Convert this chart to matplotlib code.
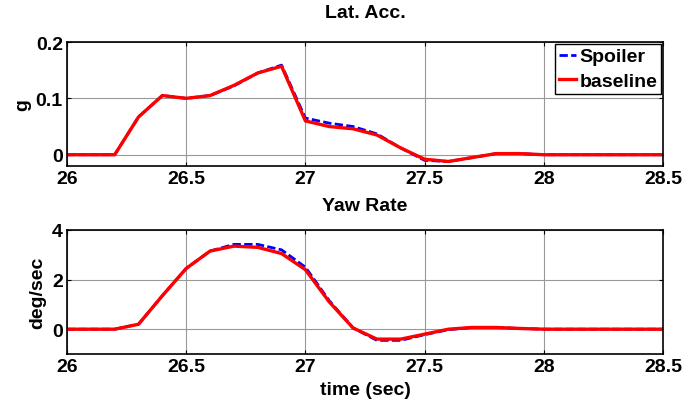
import matplotlib
matplotlib.use("Agg")
import matplotlib.pyplot as plt

time = [26.0, 26.1, 26.2, 26.3, 26.4, 26.5, 26.6, 26.7, 26.8, 26.9,
        27.0, 27.1, 27.2, 27.3, 27.4, 27.5, 27.6, 27.7, 27.8, 27.9,
        28.0, 28.1, 28.2, 28.3, 28.4, 28.5]

acc_spoiler = [0, 0, 0, 0.067, 0.105, 0.100, 0.105, 0.122, 0.145, 0.159,
               0.065, 0.056, 0.050, 0.037, 0.012, -0.010, -0.012, -0.005, 0.002, 0.002,
               0, 0, 0, 0, 0, 0]
acc_baseline = [0, 0, 0, 0.067, 0.105, 0.100, 0.105, 0.123, 0.145, 0.157,
                0.060, 0.050, 0.046, 0.035, 0.012, -0.008, -0.012, -0.005, 0.002, 0.002,
                0, 0, 0, 0, 0, 0]

yaw_spoiler = [0, 0, 0, 0.2, 1.35, 2.45, 3.15, 3.42, 3.42, 3.2,
               2.5, 1.15, 0.05, -0.45, -0.45, -0.22, -0.02, 0.07, 0.07, 0.03,
               0, 0, 0, 0, 0, 0]
yaw_baseline = [0, 0, 0, 0.2, 1.35, 2.45, 3.15, 3.35, 3.3, 3.05,
                2.4, 1.1, 0.05, -0.4, -0.4, -0.2, 0.0, 0.07, 0.07, 0.03,
                0, 0, 0, 0, 0, 0]

xticks = [26, 26.5, 27, 27.5, 28, 28.5]
xticklabels = ["26", "26.5", "27", "27.5", "28", "28.5"]

plt.rcParams["font.family"] = ["Liberation Sans", "DejaVu Sans"]
plt.rcParams["font.weight"] = "bold"
plt.rcParams["font.size"] = 14

fig = plt.figure(figsize=(6.85, 4.02), dpi=100)
ax1 = fig.add_axes([67 / 685, 1 - 167 / 402, 596 / 685, 124 / 402])
ax2 = fig.add_axes([67 / 685, 1 - 355 / 402, 596 / 685, 124 / 402])


def style(ax):
    ax.set_xlim(26, 28.5)
    ax.set_xticks(xticks)
    ax.set_xticklabels(xticklabels)
    ax.grid(True, color="#999999", linewidth=0.8)
    ax.tick_params(direction="in", top=True, right=True, length=3, width=0.8, pad=3)
    for s in ax.spines.values():
        s.set_linewidth(1.2)
    for lbl in ax.get_xticklabels() + ax.get_yticklabels():
        lbl.set_fontweight("bold")


ax1.plot(time, acc_spoiler, color="blue", linestyle=(0, (3, 1.2)), linewidth=2.0, label="Spoiler")
ax1.plot(time, acc_baseline, color="red", linewidth=2.4, label="baseline")
ax1.set_ylim(-0.02, 0.2)
ax1.set_yticks([0, 0.1, 0.2])
ax1.set_yticklabels(["0", "0.1", "0.2"])
style(ax1)
ax1.set_title("Lat. Acc.", fontsize=14, fontweight="bold", pad=18)
ax1.set_ylabel("g", fontweight="bold", labelpad=3)
ax1.set_xlabel("Yaw Rate", fontweight="bold", labelpad=7)
leg = ax1.legend(loc="upper right", fancybox=False, edgecolor="black", framealpha=1,
                 handlelength=0.9, handletextpad=0.15, borderpad=0.2, labelspacing=0.35,
                 borderaxespad=0.1, prop={"weight": "bold", "size": 14})
leg.get_frame().set_linewidth(1.0)

ax2.plot(time, yaw_spoiler, color="blue", linestyle=(0, (3, 1.2)), linewidth=2.0)
ax2.plot(time, yaw_baseline, color="red", linewidth=2.4)
ax2.set_ylim(-1, 4)
ax2.set_yticks([0, 2, 4])
style(ax2)
ax2.set_ylabel("deg/sec", fontweight="bold", labelpad=4)
ax2.set_xlabel("time (sec)", fontweight="bold", labelpad=4)

fig.savefig("out.png", dpi=100)
